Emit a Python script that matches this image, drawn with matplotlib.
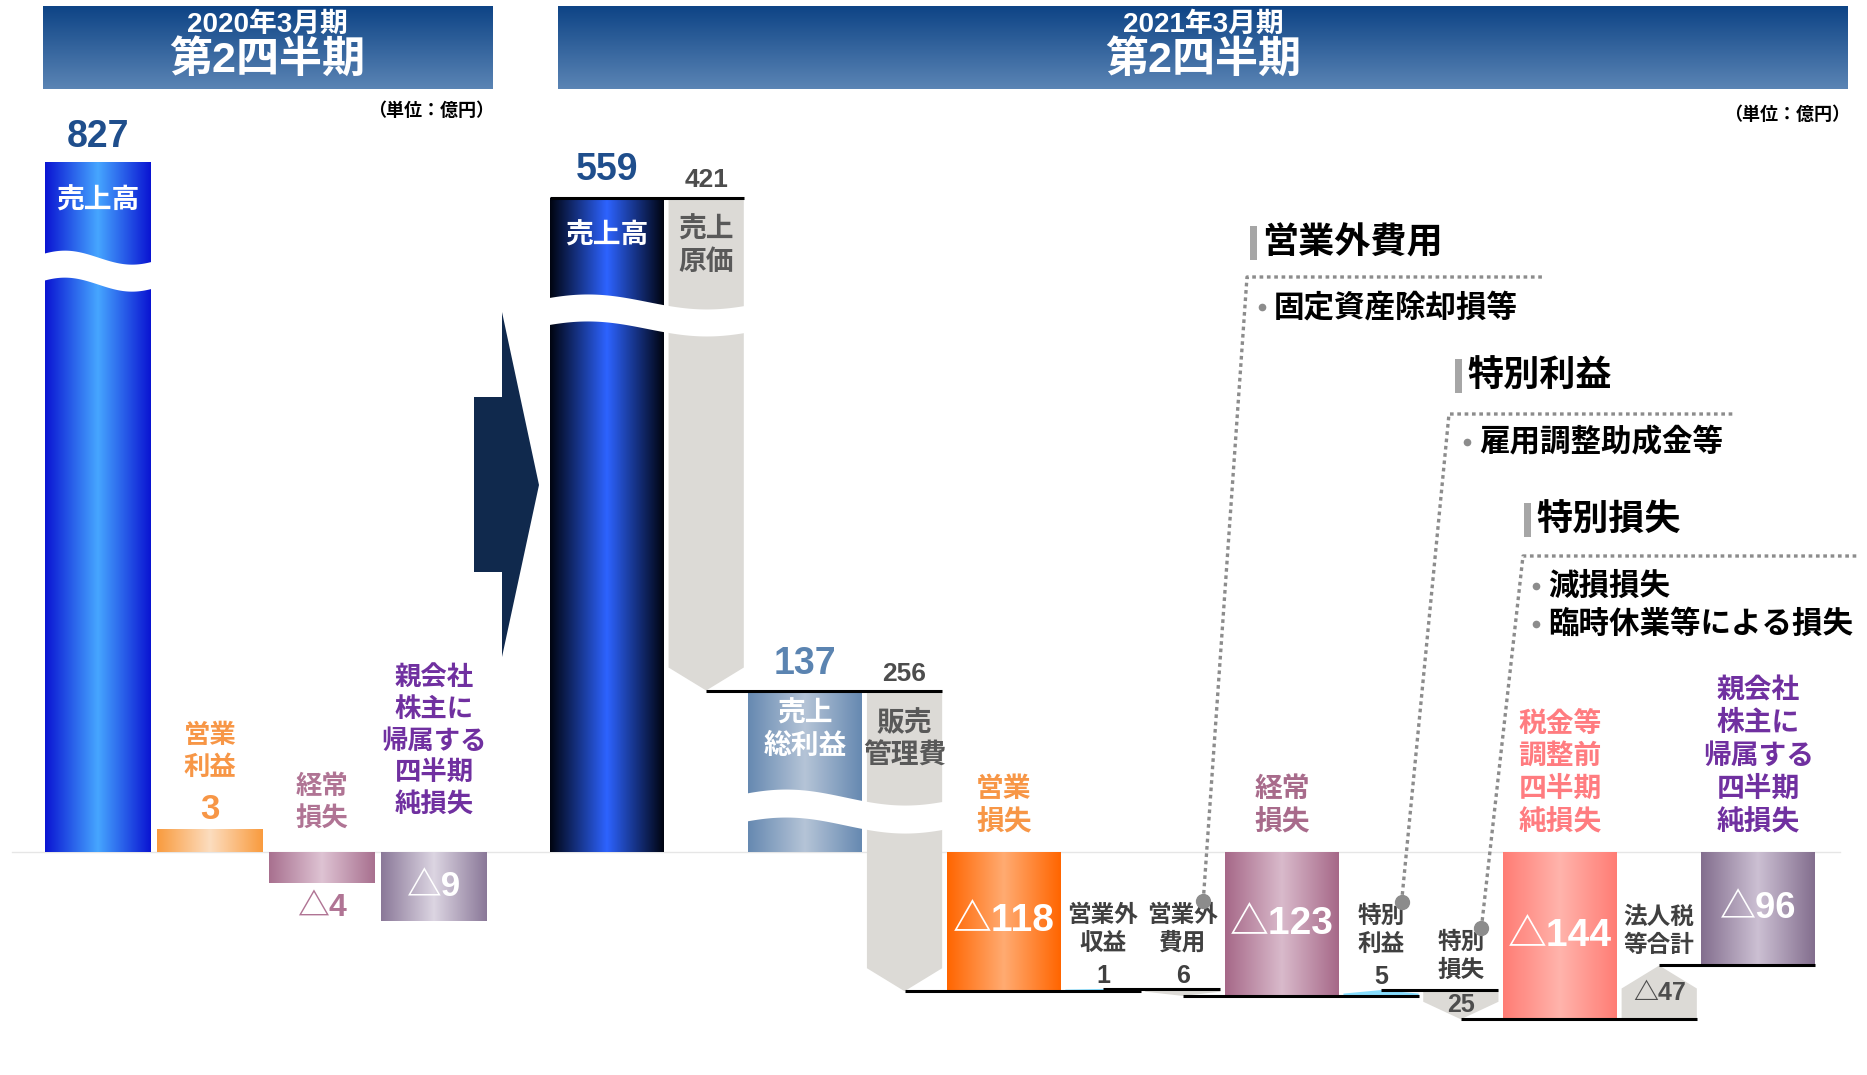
import numpy as np
import matplotlib.pyplot as plt
from matplotlib.patches import Rectangle, Polygon
from matplotlib.colors import LinearSegmentedColormap
from matplotlib.lines import Line2D

JP = ['Noto Sans CJK JP', 'DejaVu Sans']
NUM = ['Liberation Sans', 'Noto Sans CJK JP', 'DejaVu Sans']
plt.rcParams['font.family'] = JP
plt.rcParams['font.weight'] = 'bold'

# 2020年3月期 第2四半期 (億円)
labels_20 = ['売上高', '営業\n利益', '経常\n損失', '親会社\n株主に\n帰属する\n四半期\n純損失']
values_20 = [827, 3, -4, -9]

# 2021年3月期 第2四半期 (億円)
labels_21 = ['売上高', '売上\n原価', '売上\n総利益', '販売\n管理費', '営業\n損失',
             '営業外\n収益', '営業外\n費用', '経常\n損失', '特別\n利益', '特別\n損失',
             '税金等\n調整前\n四半期\n純損失', '法人税\n等合計',
             '親会社\n株主に\n帰属する\n四半期\n純損失']
values_21 = [559, 421, 137, 256, -118, 1, 6, -123, 5, 25, -144, -47, -96]
kinds_21 = ['total', 'cost', 'total', 'cost', 'total', 'gain', 'cost', 'total',
            'gain', 'cost', 'total', 'cost', 'total']

# notes: heading, bullet lines, item the dotted leader points at
notes = [('営業外費用', ['固定資産除却損等'], 6),
         ('特別利益', ['雇用調整助成金等'], 8),
         ('特別損失', ['減損損失', '臨時休業等による損失'], 9)]


def fmt(v):
    return f'△{-v}' if v < 0 else f'{v}'


W, H = 1867, 1075
fig = plt.figure(figsize=(W / 100, H / 100), dpi=100)


def fx(px):
    return px / W


def fy(py):
    return 1 - py / H


# pixel layout of the two panels
LX0, LXU, LY0, LYU, LTOP = 98, 112, 852, 7.7, 162
RX0, RXU, RY0, RYU = 607, 114, 852, 1.17


def lpx(p):
    return p / LYU


def rpx(p):
    return p / RYU


axl = fig.add_axes([0, 0, 1, (H - LTOP) / H])
axr = fig.add_axes([0, 0, 1, 1])
for ax in (axl, axr):
    ax.axis('off')
    ax.patch.set_alpha(0)


def grad_fill(ax, shape, x0, x1, y0, y1, edge, mid, z=2):
    cmap = LinearSegmentedColormap.from_list('g', [edge, mid, edge])
    shape.set_facecolor('none')
    shape.set_edgecolor('none')
    ax.add_patch(shape)
    im = ax.imshow(np.linspace(0, 1, 256)[None, :], cmap=cmap, aspect='auto',
                   extent=(x0, x1, min(y0, y1), max(y0, y1)), zorder=z,
                   interpolation='bilinear')
    im.set_clip_path(shape)


def grad_bar(ax, x0, x1, y0, y1, edge, mid):
    r = Rectangle((x0, min(y0, y1)), x1 - x0, abs(y1 - y0))
    grad_fill(ax, r, x0, x1, y0, y1, edge, mid)


def chevron(ax, xc, w, start, end, color, tip):
    x0, x1 = xc - w / 2, xc + w / 2
    d = np.sign(end - start)
    tip = min(tip, abs(end - start) * 0.6)
    pts = [(x0, start), (x1, start), (x1, end - d * tip), (xc, end), (x0, end - d * tip)]
    ax.add_patch(Polygon(pts, closed=True, facecolor=color, edgecolor='none', zorder=2))


def wave(ax, xa, xb, yc, thick, amp):
    t = np.linspace(0, 1, 120)
    xs = xa + (xb - xa) * t
    off = amp * np.cos(2 * np.pi * (t - 0.2) / 1.2)
    ax.fill_between(xs, yc + off - thick / 2, yc + off + thick / 2,
                    color='white', lw=0, zorder=5)


def txt(ax, x, y, s, size, color, va='center', fam=JP, ha='center', **kw):
    return ax.text(x, y, s, fontsize=size, color=color, ha=ha, va=va, family=fam,
                   fontweight='bold', linespacing=1.22, zorder=8, **kw)


# ---------------- 2020 panel ----------------
grad20 = [('#0A14D2', '#46A6FF'), ('#F99B3E', '#FCDDBF'),
          ('#A8708F', '#DEC3D3'), ('#8A7898', '#DCD5E2')]
text20 = ['white', '#F79646', '#B07494', '#7030A0']
ltop = (LY0 - LTOP) / LYU   # top of the visible scale; taller bars are cut here
for i, (lab, v) in enumerate(zip(labels_20, values_20)):
    grad_bar(axl, i - 0.47, i + 0.47, 0, min(v, ltop), *grad20[i])
    if v > ltop:
        txt(axl, i, ltop + lpx(7), fmt(v), 27, '#1F4E8C', va='bottom', fam=NUM)
        txt(axl, i, ltop - lpx(39), lab, 20, 'white')
    elif v > 0:
        txt(axl, i, v + lpx(10), fmt(v), 25, text20[i], va='baseline', fam=NUM)
        txt(axl, i, v + lpx(48), lab, 19, text20[i], va='bottom')
    elif i == 2:
        txt(axl, i, lpx(20), lab, 19, text20[i], va='bottom')
        txt(axl, i, v - lpx(10), fmt(v), 23, text20[i], va='top', fam=NUM)
    else:
        txt(axl, i, v / 2, fmt(v), 25, 'white', fam=NUM)
        txt(axl, i, lpx(34), lab, 19, text20[i], va='bottom')

wave(axl, -0.5, 0.5, 75.5, lpx(27), lpx(7))

# ---------------- 2021 panel ----------------
widths = [1.0 if k == 'total' else 0.66 for k in kinds_21]
GAP = 0.04
xc = [0.0]
for i in range(1, len(widths)):
    xc.append(xc[-1] + widths[i - 1] / 2 + GAP + widths[i] / 2)

starts, ends = [], []
run = 0
for v, k in zip(values_21, kinds_21):
    if k == 'total':
        starts.append(0)
        ends.append(v)
        run = v
    else:
        d = v if k == 'gain' else -v
        starts.append(run)
        ends.append(run + d)
        run += d

total_grad = {0: ('#000410', '#2D63FF'), 2: ('#6689B1', '#B5C4D7'),
              4: ('#FF6500', '#FFAB72'), 7: ('#A66888', '#D9BACB'),
              10: ('#FF7C74', '#FFB4AC'), 12: ('#836E8E', '#CCC0D3')}
total_text = {0: '#1F4E8C', 2: '#5B84B1', 4: '#F79646', 7: '#A86B8B',
              10: '#FF7C80', 12: '#7030A0'}
label_top = {}

for i, (lab, v, k) in enumerate(zip(labels_21, values_21, kinds_21)):
    x, w = xc[i], widths[i]
    s, e = starts[i], ends[i]
    if k == 'total':
        grad_bar(axr, x - w / 2, x + w / 2, s, e, *total_grad[i])
        if v > 0:
            txt(axr, x, e + rpx(18), fmt(v), 27, total_text[i], va='baseline', fam=NUM)
            txt(axr, x, e - rpx(38), lab, 20, 'white')
        else:
            txt(axr, x, e / 2, fmt(v), 28 if i != 12 else 26, 'white', fam=NUM)
            txt(axr, x, rpx(16), lab, 20, total_text[i], va='bottom')
    else:
        col = '#86DCFC' if k == 'gain' else '#DCDAD6'
        chevron(axr, x, w, s, e, col, rpx(23))
        top = max(s, e)
        if abs(v) >= 100:
            txt(axr, x, top + rpx(11), fmt(v), 19, '#4D4D4D', va='baseline', fam=NUM)
            txt(axr, x, top - rpx(48), lab, 20, '#595959')
        elif abs(v) >= 20:
            txt(axr, x, (s + e) / 2, fmt(v), 18, '#4D4D4D', fam=NUM)
            txt(axr, x, top + rpx(8), lab, 17, '#404040', va='bottom')
            label_top[i] = top + rpx(62)
        else:
            txt(axr, x, top + rpx(6), fmt(v), 18, '#404040', va='baseline', fam=NUM)
            txt(axr, x, top + rpx(34), lab, 17, '#404040', va='bottom')
            label_top[i] = top + rpx(88)

wave(axr, xc[0] - 0.52, xc[1] + widths[1] / 2 + 0.02, 459, rpx(27), rpx(7.5))
wave(axr, xc[2] - 0.52, xc[3] + widths[3] / 2 + 0.02, 35, rpx(28), rpx(8))

# connector lines
lk = dict(color='black', lw=2.2, zorder=6, solid_capstyle='butt')
axr.plot([xc[0] - widths[0] / 2, xc[1] + widths[1] / 2], [ends[0]] * 2, **lk)
change_idx = [i for i, k in enumerate(kinds_21) if k != 'total']
for j, i in enumerate(change_idx):
    nxt = change_idx[j + 1] if j + 1 < len(change_idx) else i + 1
    axr.plot([xc[i], xc[nxt] + widths[nxt] / 2], [ends[i]] * 2, **lk)

axr.set_xlim(-RX0 / RXU, (W - RX0) / RXU)
axr.set_ylim(-(H - RY0) / RYU, RY0 / RYU)
axl.set_xlim(-LX0 / LXU, (W - LX0) / LXU)
axl.set_ylim(-(H - LY0) / LYU, ltop)

# zero line across both panels
fig.add_artist(Line2D([fx(12), fx(1840)], [fy(RY0)] * 2, color='#E6E6E6', lw=1,
                      transform=fig.transFigure, zorder=0))

# ---------------- headers ----------------
for (x0, x1), yr in [((43, 492), '2020年3月期'), ((558, 1848), '2021年3月期')]:
    hax = fig.add_axes([fx(x0), fy(89), (x1 - x0) / W, (89 - 6) / H])
    hax.imshow(np.linspace(0, 1, 64)[:, None],
               cmap=LinearSegmentedColormap.from_list('h', ['#0E4486', '#5A84B4']),
               aspect='auto', extent=(0, 1, 0, 1), origin='upper')
    hax.axis('off')
    cx = fx((x0 + x1) / 2)
    fig.text(cx, fy(25), yr, fontsize=20, color='white', ha='center', va='center',
             family=NUM, fontweight='bold')
    fig.text(cx, fy(60), '第2四半期', fontsize=31, color='white', ha='center',
             va='center', family=NUM, fontweight='bold')

fig.text(fx(494), fy(110), '（単位：億円）', fontsize=13, ha='right', va='center',
         color='black', fontweight='bold')
fig.text(fx(1850), fy(114), '（単位：億円）', fontsize=13, ha='right', va='center',
         color='black', fontweight='bold')

# arrow between the two periods
arrow = [(474, 397), (502, 397), (502, 312), (539, 485), (502, 657), (502, 572), (474, 572)]
fig.add_artist(Polygon([(fx(a), fy(b)) for a, b in arrow], closed=True,
                       facecolor='#10294D', edgecolor='none', transform=fig.transFigure))

# ---------------- notes with dotted leaders ----------------
note_pos = [(1250, 243, 1247, 277, 1543, 307),
            (1455, 376, 1449, 414, 1733, 442),
            (1524, 520, 1523, 556, 1857, 586)]
gray = '#8C8C8C'
for (head, bullets, idx), (hx, hy, cx_, cy_, ex_, by) in zip(notes, note_pos):
    fig.add_artist(Rectangle((fx(hx), fy(hy + 17)), 7 / W, 34 / H, facecolor='#A6A6A6',
                             edgecolor='none', transform=fig.transFigure))
    fig.text(fx(hx + 12), fy(hy), head, fontsize=26, ha='left', va='center',
             color='black', fontweight='bold')
    for n, b in enumerate(bullets):
        yy = by + n * 38
        fig.add_artist(Line2D([fx(hx + 12)], [fy(yy)], marker='o', ms=4.5, color=gray,
                              transform=fig.transFigure))
        fig.text(fx(hx + 24), fy(yy), b, fontsize=22, ha='left', va='center',
                 color='black', fontweight='bold')
    dx = RX0 + (xc[idx] + 0.18) * RXU
    dy = RY0 - label_top[idx] * RYU
    fig.add_artist(Line2D([fx(dx), fx(cx_), fx(ex_)], [fy(dy), fy(cy_), fy(cy_)],
                          color=gray, lw=2.4, linestyle=(0, (1.1, 1.1)),
                          dash_capstyle='butt', transform=fig.transFigure))
    fig.add_artist(Line2D([fx(dx)], [fy(dy)], marker='o', ms=10, color=gray,
                          transform=fig.transFigure))

fig.savefig('out.png', dpi=100, facecolor='white')
